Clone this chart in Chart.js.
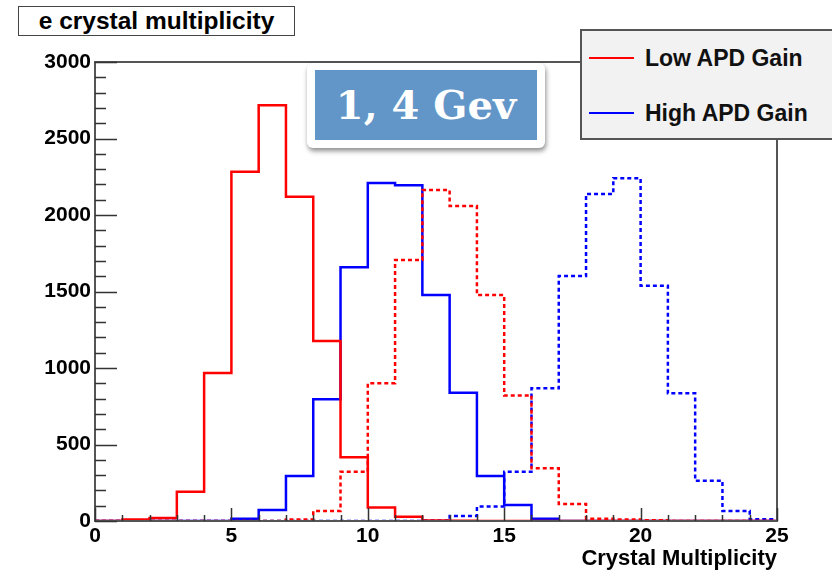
<!DOCTYPE html>
<html>
<head>
<meta charset="utf-8">
<script src="https://cdn.jsdelivr.net/npm/chart.js@4/dist/chart.umd.min.js"></script>
<style>
  html, body { margin: 0; padding: 0; background: #fff; }
  #wrap { position: relative; width: 832px; height: 572px; overflow: hidden; font-family: "Liberation Sans", Arial, sans-serif; }
  #c { position: absolute; left: 0; top: 0; }
  #title { position: absolute; left: 18px; top: 6px; width: 275px; height: 28px; border: 1.5px solid #444; background: #fff;
           font-weight: bold; font-size: 24.5px; line-height: 28px; text-align: center; color: #000; }
  #legend { position: absolute; left: 580px; top: 29px; width: 260px; height: 107px; border: 2px solid #555; background: #f2f2f2; }
  .li { position: absolute; left: 0; height: 30px; width: 260px; }
  .li .sw { position: absolute; left: 7px; top: 14px; width: 45px; height: 2px; }
  .li .tx { position: absolute; left: 63px; top: 0; font-weight: bold; font-size: 23px; line-height: 30px; color: #111; white-space: nowrap; }
  #gevOuter { position: absolute; left: 307px; top: 63px; width: 238px; height: 85px; background: #fff; border-radius: 6px;
              box-shadow: 1px 3px 5px rgba(0,0,0,0.45); }
  #gevInner { position: absolute; left: 8px; top: 7px; width: 222px; height: 70px; background: #6296c8;
              color: #fff; font-family: "DejaVu Serif", serif; font-weight: bold; font-size: 40px; line-height: 70px; text-align: center; }
</style>
</head>
<body>
<div id="wrap">
  <canvas id="c" width="832" height="572"></canvas>
  <div id="title">e crystal multiplicity</div>
  <div id="legend"></div>
  <div id="gevOuter"><div id="gevInner">1, 4 Gev</div></div>
</div>
<script>
// ---- data (bin contents, bins of width 1 from 0 to 25) ----
const binEdges = [0,1,2,3,4,5,6,7,8,9,10,11,12,13,14,15,16,17,18,19,20,21,22,23,24,25];
const lowGainSolid  = [0,10,20,191,967,2282,2718,2120,1177,416,89,28,4,1,0,0,0,0,0,0,0,0,0,0,0];
const highGainSolid = [0,0,0,0,0,15,72,294,795,1658,2209,2195,1477,839,294,104,15,0,0,0,0,0,0,0,0];
const lowGainDotted = [0,0,0,0,0,0,0,10,65,322,900,1706,2163,2059,1477,821,344,111,14,10,5,0,0,0,0];
const highGainDotted= [0,0,0,0,0,0,0,0,0,0,0,0,3,33,94,322,867,1601,2137,2240,1538,835,263,65,11];
const seriesNames = ['Low APD Gain', 'High APD Gain'];
const seriesColors = ['#ff0000', '#0000ff'];
const xTicks = [0,5,10,15,20,25];
const yTicks = [0,500,1000,1500,2000,2500,3000];
const xTitle = 'Crystal Multiplicity';

function histPoints(vals) {
  const pts = [{x: binEdges[0], y: 0}];
  for (let i = 0; i < vals.length; i++) pts.push({x: binEdges[i], y: vals[i]});
  pts.push({x: binEdges[vals.length], y: vals[vals.length - 1]});
  return pts;
}

// legend (HTML)
const leg = document.getElementById('legend');
seriesNames.forEach((n, i) => {
  const d = document.createElement('div');
  d.className = 'li';
  d.style.top = (i === 0 ? 12 : 67) + 'px';
  d.innerHTML = '<div class="sw" style="background:' + seriesColors[i] + '"></div><div class="tx"></div>';
  d.querySelector('.tx').textContent = n;
  leg.appendChild(d);
});

const FONT = "'Liberation Sans', Arial, sans-serif";
const frameAndTicks = {
  id: 'frameAndTicks',
  afterDatasetsDraw(chart) {
    const {ctx, chartArea: a, scales: {x, y}} = chart;
    ctx.save();
    ctx.strokeStyle = '#555';
    ctx.lineWidth = 2;
    ctx.strokeRect(a.left, a.top, a.right - a.left, a.bottom - a.top);
    ctx.strokeStyle = '#333';
    ctx.lineWidth = 1.5;
    ctx.beginPath();
    for (let v = 0; v <= 3000; v += 100) {
      const py = Math.round(y.getPixelForValue(v)) + 0.5;
      const len = (v % 500 === 0) ? 22 : 11;
      ctx.moveTo(a.left, py); ctx.lineTo(a.left + len, py);
    }
    for (let v = 0; v <= 25; v += 1) {
      const px = Math.round(x.getPixelForValue(v)) + 0.5;
      const len = (v % 5 === 0) ? 13 : 6;
      ctx.moveTo(px, a.bottom); ctx.lineTo(px, a.bottom - len);
    }
    ctx.stroke();
    ctx.restore();
  }
};

const mk = (label, vals, color, dashed) => ({
  label, data: histPoints(vals), borderColor: color, backgroundColor: color,
  borderWidth: 2.5, borderDash: dashed ? [4, 3] : [], stepped: true,
  pointRadius: 0, fill: false, tension: 0
});

new Chart(document.getElementById('c'), {
  type: 'line',
  data: {
    datasets: [
      mk(seriesNames[0], lowGainSolid, seriesColors[0], false),
      mk(seriesNames[0] + ' (dotted)', lowGainDotted, seriesColors[0], true),
      mk(seriesNames[1] + ' (dotted)', highGainDotted, seriesColors[1], true),
      mk(seriesNames[1], highGainSolid, seriesColors[1], false)
    ]
  },
  options: {
    responsive: false,
    animation: false,
    layout: { padding: { left: 0, top: 62, right: 55, bottom: 0 } },
    plugins: { legend: { display: false }, tooltip: { enabled: false } },
    scales: {
      x: {
        type: 'linear', min: 0, max: 25,
        afterBuildTicks: s => { s.ticks = xTicks.map(v => ({value: v})); },
        afterFit: s => { s.height = 51; },
        grid: { display: false, drawTicks: false },
        border: { display: false },
        ticks: { autoSkip: false, maxRotation: 0, padding: 3, color: '#000', callback: v => String(v),
                 font: { family: FONT, size: 21, weight: 'bold' } },
        title: { display: true, text: xTitle, align: 'end', color: '#000', padding: { top: 0, bottom: 0 },
                 font: { family: FONT, size: 22, weight: 'bold' } }
      },
      y: {
        type: 'linear', min: 0, max: 3000,
        afterBuildTicks: s => { s.ticks = yTicks.map(v => ({value: v})); },
        afterFit: s => { s.width = 95; },
        grid: { display: false, drawTicks: false },
        border: { display: false },
        ticks: { padding: 4, color: '#000', callback: v => String(v),
                 font: { family: FONT, size: 21, weight: 'bold' } }
      }
    }
  },
  plugins: [frameAndTicks]
});
</script>
</body>
</html>
